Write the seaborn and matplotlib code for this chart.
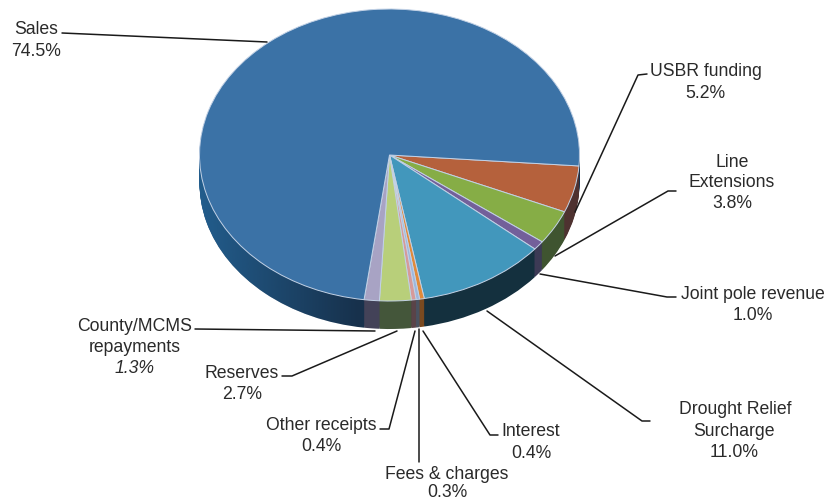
import matplotlib
matplotlib.use("Agg")
import matplotlib.pyplot as plt
from matplotlib.path import Path
from matplotlib.transforms import IdentityTransform
from matplotlib.colors import to_rgb
import numpy as np
import seaborn as sns

sns.set_theme(style="white")
plt.rcParams['font.family'] = ['Liberation Sans', 'DejaVu Sans']

# Slices, clockwise from the right edge of the pie
sources = ['USBR funding', 'Line Extensions', 'Joint pole revenue', 'Drought Relief Surcharge',
           'Interest', 'Fees & charges', 'Other receipts', 'Reserves',
           'County/MCMS repayments', 'Sales']
shares = [5.2, 3.8, 1.0, 11.0, 0.4, 0.3, 0.4, 2.7, 1.3, 74.5]

top_colors = ['#b5613c', '#86ad46', '#73609a', '#4297bc', '#e08a3a',
              '#9db7dd', '#d69a9a', '#b8cf7a', '#a8a3c4', '#3b72a6']
side_colors = ['#4e3230', '#3f5430', '#3c3a55', '#14303e', '#7a4a20',
               '#4a5260', '#5a4348', '#44563a', '#434258', '#17314c']

W, H = 829, 502
fig = plt.figure(figsize=(W / 100, H / 100), dpi=100, facecolor='white')

# pie box in pixels: ellipse 380 wide, 292 high, side drops 28 px
left, right, top, bottom = 199.5, 579.5, 10, 302
depth = 28
extra = depth + 8
ax = fig.add_axes([left / W, 1 - (bottom + extra) / H, (right - left) / W, (bottom + extra - top) / H])
ry = (bottom - top) / 2

sales_side = []
for d in range(depth, 0, -1):
    wedges, _ = ax.pie(shares, colors=side_colors, startangle=-4.3, counterclock=False,
                       center=(0, -d / ry), wedgeprops=dict(linewidth=0, zorder=1))
    sales_side.append(wedges[-1])
ax.pie(shares, colors=top_colors, startangle=-4.3, counterclock=False,
       wedgeprops=dict(linewidth=0.7, edgecolor='#c3d2e6', zorder=3))
ax.set_aspect('auto')
ax.set_xlim(-1, 1)
ax.set_ylim(-1 - extra / ry, 1)
ax.axis('off')

# lighter blue on the left part of the Sales side, fading towards the front
glow = np.zeros((1, 256, 4))
glow[..., :3] = to_rgb('#2a78b4')
glow[..., 3] = np.clip(1 - np.linspace(0, 1, 256) / 0.42, 0, 1) * 0.62
img = ax.imshow(glow, extent=(-1, 1, -1 - extra / ry, 1), aspect='auto', zorder=2)
clip = Path.make_compound_path(*[w.get_path().transformed(w.get_transform()) for w in sales_side])
img.set_clip_path(clip, IdentityTransform())
ax.set_xlim(-1, 1)
ax.set_ylim(-1 - extra / ry, 1)

# overlay in pixel coordinates for labels and leader lines
ov = fig.add_axes([0, 0, 1, 1])
ov.set_xlim(0, W)
ov.set_ylim(H, 0)
ov.axis('off')

ink = '#2a2a2a'
labels = [
    (36, 30, 'Sales'), (36, 52, '74.5%'),
    (705.5, 72, 'USBR funding'), (705.5, 93, '5.2%'),
    (732, 163, 'Line'), (732, 183, 'Extensions'), (732, 204, '3.8%'),
    (753, 295, 'Joint pole revenue'), (753, 316, '1.0%'),
    (735, 410, 'Drought Relief'), (734, 432, 'Surcharge'), (734, 453, '11.0%'),
    (531, 432, 'Interest'), (531, 454, '0.4%'),
    (447, 475, 'Fees & charges'), (447, 493, '0.3%'),
    (321, 426, 'Other receipts'), (321, 447, '0.4%'),
    (242, 374, 'Reserves'), (242, 395, '2.7%'),
    (135, 327, 'County/MCMS'), (135, 348, 'repayments'),
]
for x, y, s in labels:
    ov.text(x, y, s, ha='center', va='center', fontsize=12.7, color=ink)
ov.text(135, 369, '1.3%', ha='center', va='center', fontsize=12.7, color=ink, style='italic')

leaders = [
    [(62, 34), (267, 43)],
    [(647, 75), (638, 76), (575, 213)],
    [(676, 192), (668, 192), (555, 257)],
    [(676, 298), (667, 298), (540, 275)],
    [(487, 312), (642, 422), (650, 422)],
    [(498, 436), (490, 436), (423, 332)],
    [(419, 330), (419, 463)],
    [(380, 430), (389, 430), (415, 332)],
    [(282, 377), (292, 377), (397, 332)],
    [(195, 330), (375, 332)],
]
for pts in leaders:
    ov.plot([p[0] for p in pts], [p[1] for p in pts], color='#1a1a1a', lw=1.1)

fig.savefig('out.png', dpi=100, facecolor='white')
